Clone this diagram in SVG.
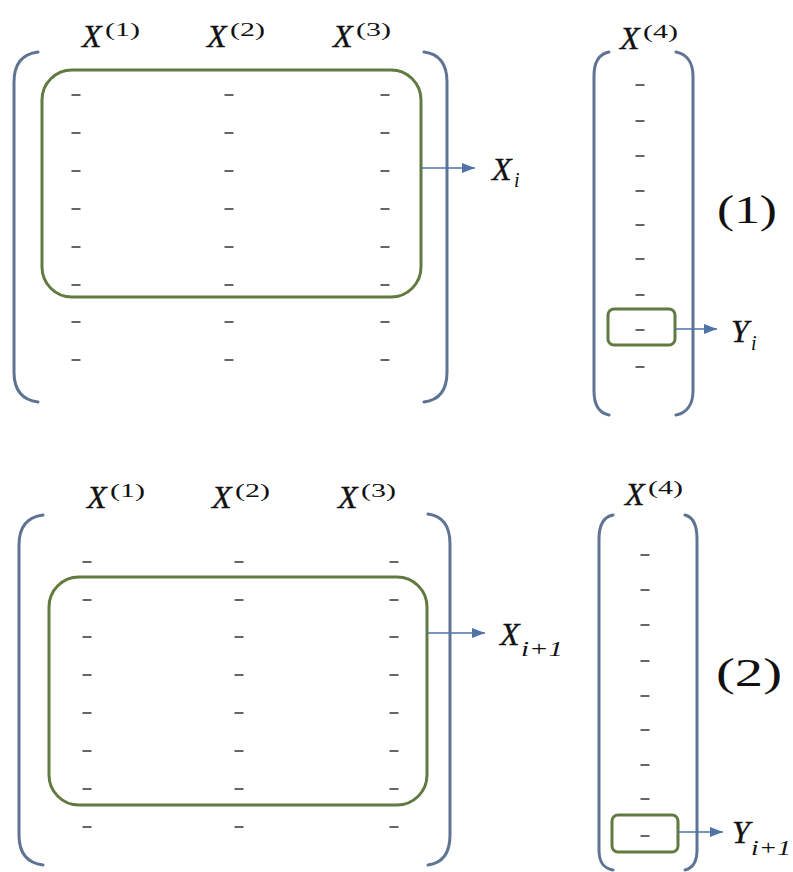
<svg xmlns="http://www.w3.org/2000/svg" width="793" height="872" viewBox="0 0 793 872">
<defs>
<marker id="ah" viewBox="0 0 13 10" refX="13" refY="5" markerWidth="13" markerHeight="10" markerUnits="userSpaceOnUse" orient="auto">
<path d="M0,0 L13,5 L0,10 Z" fill="#4f73a8"/>
</marker>
<line id="dash" x1="-4.5" y1="0" x2="4.5" y2="0" stroke="#555" stroke-width="1.8"/>
</defs>
<style>
.br{fill:none;stroke:#5f7393;stroke-width:3;stroke-linecap:round}
.gr{fill:none;stroke:#607a40;stroke-width:3}
.ar{stroke:#4f73a8;stroke-width:1.6;fill:none}
.X{font-family:"Liberation Serif","DejaVu Serif",serif;font-style:italic;font-size:32px;fill:#111;stroke:#111;stroke-width:0.4}
.sup{font-family:"Liberation Serif","DejaVu Serif",serif;font-size:19px;fill:#111}
.sub{font-family:"Liberation Serif","DejaVu Serif",serif;font-style:italic;font-size:20px;fill:#111}
.num{font-family:"Liberation Serif","DejaVu Serif",serif;font-size:40px;fill:#111}
</style>
<rect width="793" height="872" fill="#fff"/>

<g id="panel1-matrix">
<path class="br" d="M38 52 C22 54 14 64 14 82 L14 372 C14 390 22 400 38 402"/>
<path class="br" d="M424 52 C440 54 447 64 447 82 L447 372 C447 390 440 400 424 402"/>
<g>
<use href="#dash" x="76" y="95"/><use href="#dash" x="229" y="95"/><use href="#dash" x="385" y="95"/>
<use href="#dash" x="76" y="133"/><use href="#dash" x="229" y="133"/><use href="#dash" x="385" y="133"/>
<use href="#dash" x="76" y="171"/><use href="#dash" x="229" y="171"/><use href="#dash" x="385" y="171"/>
<use href="#dash" x="76" y="209"/><use href="#dash" x="229" y="209"/><use href="#dash" x="385" y="209"/>
<use href="#dash" x="76" y="247"/><use href="#dash" x="229" y="247"/><use href="#dash" x="385" y="247"/>
<use href="#dash" x="76" y="285"/><use href="#dash" x="229" y="285"/><use href="#dash" x="385" y="285"/>
<use href="#dash" x="76" y="322"/><use href="#dash" x="229" y="322"/><use href="#dash" x="385" y="322"/>
<use href="#dash" x="76" y="360"/><use href="#dash" x="229" y="360"/><use href="#dash" x="385" y="360"/>
</g>
<text class="X" x="82" y="47">X</text><text class="sup" x="105" y="36" textLength="35" lengthAdjust="spacingAndGlyphs">(1)</text>
<text class="X" x="207" y="47">X</text><text class="sup" x="230" y="36" textLength="35" lengthAdjust="spacingAndGlyphs">(2)</text>
<text class="X" x="333" y="47">X</text><text class="sup" x="356" y="36" textLength="35" lengthAdjust="spacingAndGlyphs">(3)</text>
</g>
<g id="panel1-Xi-box"><rect class="gr" x="42" y="70" width="379" height="227" rx="30"/></g>
<g id="panel1-Xi-label"><text class="X" x="492" y="180">X</text><text class="sub" x="514" y="187">i</text></g>

<g id="panel1-column">
<path class="br" d="M609 52 C599 54 594 62 594 76 L594 391 C594 405 599 413 609 415"/>
<path class="br" d="M676 52 C686 54 693 62 693 76 L693 391 C693 405 686 413 676 415"/>
<g>
<use href="#dash" x="640" y="85"/><use href="#dash" x="640" y="121"/><use href="#dash" x="640" y="156"/>
<use href="#dash" x="640" y="191"/><use href="#dash" x="640" y="225"/><use href="#dash" x="640" y="259"/>
<use href="#dash" x="640" y="295"/><use href="#dash" x="640" y="330"/><use href="#dash" x="640" y="367"/>
</g>
<text class="X" x="620" y="49">X</text><text class="sup" x="643" y="38" textLength="35" lengthAdjust="spacingAndGlyphs">(4)</text>
</g>
<g id="panel1-Yi-box"><rect class="gr" x="608" y="309" width="67" height="36" rx="6"/></g>
<g id="panel1-Yi-label"><text class="X" x="731" y="342">Y</text><text class="sub" x="751" y="350">i</text></g>
<g id="panel1-number"><text class="num" x="717" y="223" textLength="60" lengthAdjust="spacingAndGlyphs">(1)</text></g>

<g id="panel2-matrix">
<path class="br" d="M43 515 C27 517 19 527 19 545 L19 835 C19 853 27 863 43 865"/>
<path class="br" d="M428 514 C443 516 450 526 450 544 L450 835 C450 853 443 863 428 865"/>
<g>
<use href="#dash" x="87" y="562"/><use href="#dash" x="239" y="562"/><use href="#dash" x="394" y="562"/>
<use href="#dash" x="87" y="600"/><use href="#dash" x="239" y="600"/><use href="#dash" x="394" y="600"/>
<use href="#dash" x="87" y="637"/><use href="#dash" x="239" y="637"/><use href="#dash" x="394" y="637"/>
<use href="#dash" x="87" y="675"/><use href="#dash" x="239" y="675"/><use href="#dash" x="394" y="675"/>
<use href="#dash" x="87" y="713"/><use href="#dash" x="239" y="713"/><use href="#dash" x="394" y="713"/>
<use href="#dash" x="87" y="751"/><use href="#dash" x="239" y="751"/><use href="#dash" x="394" y="751"/>
<use href="#dash" x="87" y="789"/><use href="#dash" x="239" y="789"/><use href="#dash" x="394" y="789"/>
<use href="#dash" x="87" y="827"/><use href="#dash" x="239" y="827"/><use href="#dash" x="394" y="827"/>
</g>
<text class="X" x="87" y="508">X</text><text class="sup" x="110" y="497" textLength="35" lengthAdjust="spacingAndGlyphs">(1)</text>
<text class="X" x="212" y="508">X</text><text class="sup" x="235" y="497" textLength="35" lengthAdjust="spacingAndGlyphs">(2)</text>
<text class="X" x="338" y="508">X</text><text class="sup" x="361" y="497" textLength="35" lengthAdjust="spacingAndGlyphs">(3)</text>
</g>
<g id="panel2-Xi1-box"><rect class="gr" x="49" y="577" width="378" height="228" rx="30"/></g>
<g id="panel2-Xi1-label"><text class="X" x="500" y="645">X</text><text class="sub" x="521" y="656" textLength="42" lengthAdjust="spacingAndGlyphs">i+1</text></g>

<g id="panel2-column">
<path class="br" d="M613 515 C603 517 599 525 599 539 L599 850 C599 862 603 868 613 870"/>
<path class="br" d="M685 515 C693 517 697 525 697 539 L697 850 C697 862 693 868 685 870"/>
<g>
<use href="#dash" x="645" y="555"/><use href="#dash" x="645" y="590"/><use href="#dash" x="645" y="625"/>
<use href="#dash" x="645" y="661"/><use href="#dash" x="645" y="696"/><use href="#dash" x="645" y="730"/>
<use href="#dash" x="645" y="765"/><use href="#dash" x="645" y="799"/><use href="#dash" x="645" y="836"/>
</g>
<text class="X" x="625" y="505">X</text><text class="sup" x="648" y="494" textLength="35" lengthAdjust="spacingAndGlyphs">(4)</text>
</g>
<g id="panel2-Yi1-box"><rect class="gr" x="612" y="815" width="66" height="37" rx="6"/></g>
<g id="panel2-Yi1-label"><text class="X" x="732" y="843">Y</text><text class="sub" x="751" y="855" textLength="40" lengthAdjust="spacingAndGlyphs">i+1</text></g>
<g id="panel2-number"><text class="num" x="716" y="686" textLength="66" lengthAdjust="spacingAndGlyphs">(2)</text></g>

<g id="connectors">
<line class="ar" x1="421" y1="168" x2="475" y2="168" marker-end="url(#ah)"/>
<line class="ar" x1="675" y1="329" x2="717" y2="329" marker-end="url(#ah)"/>
<line class="ar" x1="427" y1="633" x2="485" y2="633" marker-end="url(#ah)"/>
<line class="ar" x1="678" y1="832" x2="723" y2="832" marker-end="url(#ah)"/>
</g>
</svg>
